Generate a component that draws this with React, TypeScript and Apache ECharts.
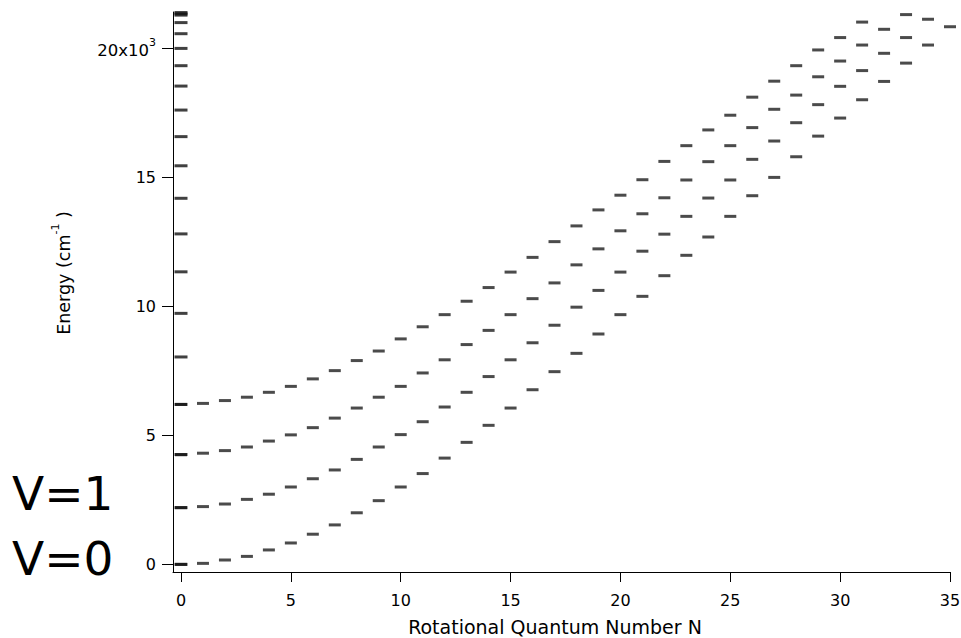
import React, { useEffect, useRef } from 'react';
import * as echarts from 'echarts';

// Rotational quantum number N (index of each energy array)
const rotN = [0, 1, 2, 3, 4, 5, 6, 7, 8, 9, 10, 11, 12, 13, 14, 15, 16, 17, 18, 19, 20, 21, 22, 23, 24, 25, 26, 27, 28, 29, 30, 31, 32, 33, 34, 35];

// Rotational ladders (cm^-1) for vibrational levels v = 0..3
const v0Energy = [0, 40, 170, 310, 560, 830, 1170, 1530, 2000, 2470, 3000, 3520, 4120, 4730, 5390, 6060, 6770, 7470, 8180, 8930, 9680, 10390, 11190, 11980, 12690, 13490, 14290, 15000, 15800, 16600, 17300, 18010, 18720, 19430, 20130, 20840];
const v1Energy = [2200, 2240, 2340, 2520, 2720, 3000, 3320, 3660, 4070, 4550, 5030, 5530, 6100, 6670, 7280, 7930, 8590, 9270, 9970, 10620, 11330, 12140, 12800, 13490, 14200, 14900, 15700, 16410, 17120, 17820, 18530, 19140, 19810, 20420, 21130];
const v2Energy = [4250, 4310, 4410, 4550, 4780, 5020, 5300, 5670, 6060, 6480, 6900, 7420, 7930, 8520, 9070, 9680, 10300, 10910, 11610, 12230, 12930, 13590, 14210, 14900, 15610, 16230, 16930, 17640, 18190, 18900, 19510, 20130, 20740, 21310];
const v3Energy = [6200, 6240, 6350, 6480, 6670, 6900, 7190, 7510, 7900, 8270, 8740, 9210, 9680, 10200, 10730, 11330, 11900, 12510, 13120, 13740, 14310, 14910, 15620, 16230, 16840, 17410, 18110, 18730, 19330, 19940, 20420, 21020];

// Vibrational levels at N = 0
const vibLevelsN0 = [0, 2200, 4260, 6200, 8040, 9730, 11340, 12810, 14190, 15450, 16580, 17610, 18540, 19330, 20000, 20570, 21000, 21290, 21340, 21390];

const xTicks = [0, 5, 10, 15, 20, 25, 30, 35];
const yTicks = [0, 5000, 10000, 15000, 20000];
const levelLabels = ['V=1', 'V=0'];

export default function App() {
  const ref = useRef<HTMLDivElement>(null);

  useEffect(() => {
    const chart = echarts.init(ref.current as HTMLDivElement, null, { renderer: 'svg' });
    const ladder = (arr: number[]) => arr.map((e, i) => [rotN[i], e]);
    const dashSeries = (name: string, data: number[][], size: number[], color: string) => ({
      name,
      type: 'scatter',
      data,
      symbol: 'rect',
      symbolSize: size,
      itemStyle: { color },
      silent: true,
      emphasis: { disabled: true },
      z: 3,
    });
    const font = 'DejaVu Sans';

    chart.setOption({
      animation: false,
      grid: { left: 173, top: 12, right: 11, bottom: 66, containLabel: false, outerBoundsMode: 'none' },
      xAxis: {
        type: 'value',
        min: -0.364,
        max: 35,
        splitLine: { show: false },
        axisLine: { onZero: false, lineStyle: { color: '#000', width: 1 } },
        axisTick: { customValues: xTicks, length: 10, inside: false, lineStyle: { color: '#000', width: 1 } },
        axisLabel: { customValues: xTicks, margin: 20, fontSize: 16, fontFamily: font, color: '#000' },
      },
      yAxis: {
        type: 'value',
        min: -295,
        max: 21411,
        splitLine: { show: false },
        axisLine: { show: true, onZero: false, lineStyle: { color: '#000', width: 1 } },
        axisTick: { show: true, customValues: yTicks, length: 11, inside: false, lineStyle: { color: '#000', width: 1 } },
        axisLabel: {
          customValues: yTicks,
          margin: 17,
          fontSize: 16,
          fontFamily: font,
          color: '#000',
          formatter: (v: number) => (v === 20000 ? '{a|20x10}{s|3}' : String(v / 1000)),
          rich: {
            a: { fontSize: 16.5, fontFamily: font, color: '#000', verticalAlign: 'bottom', lineHeight: 22 },
            s: { fontSize: 11, fontFamily: font, color: '#000', verticalAlign: 'top', lineHeight: 22 },
          },
        },
      },
      graphic: [
        {
          type: 'text',
          left: 12,
          top: 496 - 26,
          style: { text: levelLabels[0], fontSize: 47, fontFamily: font, fill: '#000' },
          silent: true,
        },
        {
          type: 'text',
          left: 12,
          top: 561 - 26,
          style: { text: levelLabels[1], fontSize: 47, fontFamily: font, fill: '#000' },
          silent: true,
        },
        {
          type: 'text',
          x: 64,
          y: 273,
          rotation: Math.PI / 2,
          style: {
            text: 'Energy (cm{s|-1} )',
            align: 'center',
            verticalAlign: 'middle',
            fontSize: 17.5,
            fontFamily: font,
            fill: '#000',
            rich: {
              s: { fontSize: 11, fontFamily: font, fill: '#000', verticalAlign: 'top', lineHeight: 28 },
            },
          },
          silent: true,
        },
        {
          type: 'text',
          x: 555,
          y: 627,
          style: {
            text: 'Rotational Quantum Number N',
            align: 'center',
            verticalAlign: 'middle',
            fontSize: 19,
            fontFamily: font,
            fill: '#000',
          },
          silent: true,
        },
      ],
      series: [
        dashSeries('v=0', ladder(v0Energy), [12, 3], '#1e1e1e'),
        dashSeries('v=1', ladder(v1Energy), [12, 3], '#1e1e1e'),
        dashSeries('v=2', ladder(v2Energy), [12, 3], '#1e1e1e'),
        dashSeries('v=3', ladder(v3Energy), [12, 3], '#1e1e1e'),
        dashSeries('N=0 levels', vibLevelsN0.map((e) => [rotN[0], e]), [13, 3], '#111'),
      ],
    });
    return () => chart.dispose();
  }, []);

  return <div ref={ref} style={{ position: 'absolute', left: 0, top: 0, width: 961, height: 638 }} />;
}
